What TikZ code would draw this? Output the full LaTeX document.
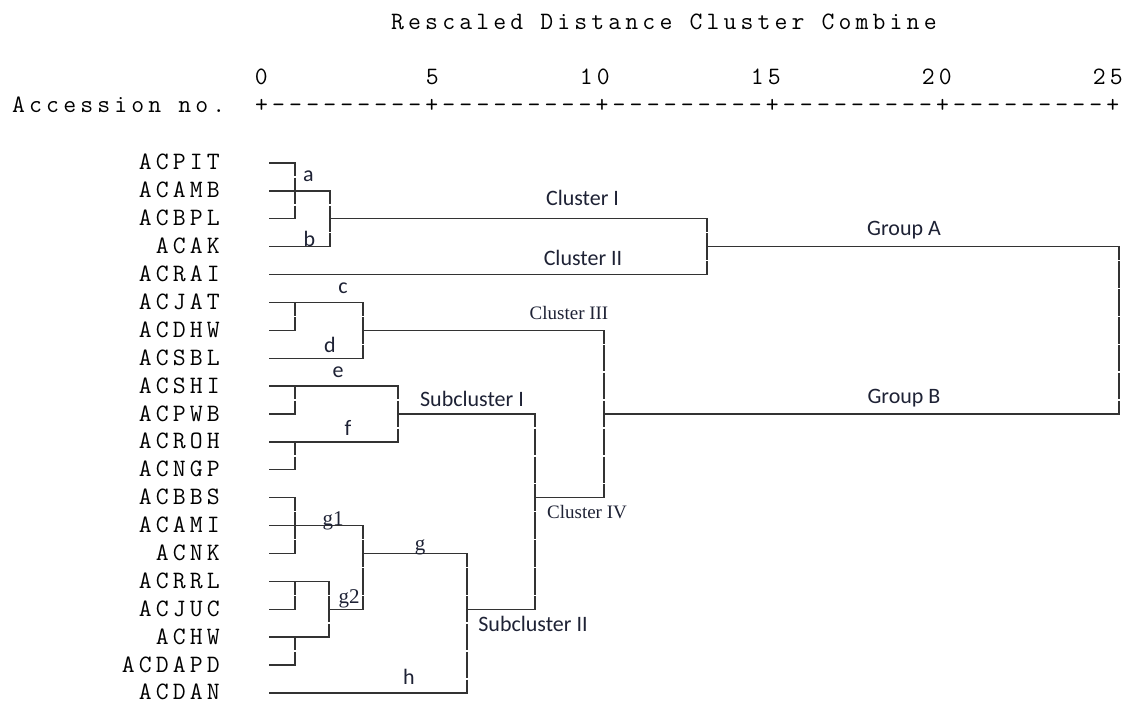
\documentclass[tikz,border=0pt]{standalone}
\usepackage{fontspec}
\newfontfamily\califont{Carlito}
\newfontfamily\seriffont{Liberation Serif}
\newfontfamily\spssfont{Latin Modern Mono}[LetterSpace=16.6]
\definecolor{linec}{HTML}{333333}
\definecolor{labc}{HTML}{1E2235}
\newcommand\msp{\hspace*{17.1pt}}
\tikzset{
  den/.style={draw=linec, line width=1.3pt, line cap=rect},
  vden/.style={draw=linec, line width=1.3pt, dash pattern=on 26.39pt off 1.5pt, dash phase=13.2pt},
  mono/.style={font=\spssfont\fontsize{25}{25}\selectfont, inner sep=0pt, text=black},
  leaf/.style={mono, anchor=base east},
  lab/.style={font=\califont\fontsize{22}{22}\selectfont, inner sep=0pt, text=labc, anchor=base},
  slab/.style={font=\seriffont\fontsize{19}{19}\selectfont, inner sep=0pt, text=labc, anchor=base},
  glab/.style={font=\seriffont\fontsize{21}{21}\selectfont, inner sep=0pt, text=labc, anchor=base},
}
\newcommand\dhor[3]{\draw[den] (#2,#1) -- (#3,#1);}
\newcommand\dvert[3]{\draw[vden] (#1,#2) -- (#1,#3);}
\begin{document}
\begin{tikzpicture}[x=1pt, y=-27.89pt]
\useasboundingbox[fill=white] (0,-5.844) rectangle (1125,19.326);
% header
\node[mono, anchor=base west] (title) at (391,-4.769) {Rescaled\msp Distance\msp Cluster\msp Combine};
\node[mono, anchor=base east] (n0) at (268,-2.797) {0};
\node[mono, anchor=base east] (n5) at (439,-2.797) {5};
\node[mono, anchor=base east] (n10) at (610,-2.797) {10};
\node[mono, anchor=base east] (n15) at (781,-2.797) {15};
\node[mono, anchor=base east] (n20) at (952,-2.797) {20};
\node[mono, anchor=base east] (n25) at (1123,-2.797) {25};
\node[mono, anchor=base west] (acc) at (12,-1.793) {Accession\msp no.};
\node[mono, anchor=base west] (axis) at (255,-1.793) {+---------+---------+---------+---------+---------+};
% leaves
\foreach \nm [count=\i from 0] in {ACPIT,ACAMB,ACBPL,ACAK,ACRAI,ACJAT,ACDHW,ACSBL,ACSHI,ACPWB,ACROH,ACNGP,ACBBS,ACAMI,ACNK,ACRRL,ACJUC,ACHW,ACDAPD,ACDAN}
  \node[leaf] (leaf\i) at (220,\i+0.251) {\nm};
% cluster I / II
\dhor{0}{270}{295}
\dhor{1}{270}{330}
\dhor{2}{270}{295}
\dhor{3}{270}{330}
\dvert{295}{0}{2}
\dvert{330}{1}{3}
\dhor{2}{330}{707}
\dhor{4}{270}{707}
\dvert{707}{2}{4}
\dhor{3}{707}{1119}
\dvert{1119}{3}{9}
% cluster III
\dhor{5}{270}{363}
\dhor{6}{270}{295}
\dvert{295}{5}{6}
\dhor{7}{270}{363}
\dvert{363}{5}{7}
\dhor{6}{363}{604}
\dvert{604}{6}{12}
\dhor{9}{604}{1119}
% subcluster I
\dhor{8}{270}{398}
\dhor{9}{270}{295}
\dvert{295}{8}{9}
\dhor{10}{270}{398}
\dhor{11}{270}{295}
\dvert{295}{10}{11}
\dvert{398}{8}{10}
\dhor{9}{398}{535}
\dvert{535}{9}{16}
\dhor{12}{535}{604}
% subcluster II
\dhor{12}{270}{295}
\dhor{13}{270}{363}
\dhor{14}{270}{295}
\dvert{295}{12}{14}
\dhor{15}{270}{329}
\dhor{16}{270}{295}
\dvert{295}{15}{16}
\dhor{17}{270}{329}
\dhor{18}{270}{295}
\dvert{295}{17}{18}
\dvert{329}{15}{17}
\dhor{16}{329}{363}
\dvert{363}{13}{16}
\dhor{14}{363}{467}
\dhor{19}{270}{467}
\dvert{467}{14}{19}
\dhor{16}{467}{535}
% labels
\node[lab] (la) at (308.5,0.681) {a};
\node[lab] (lb) at (309.5,3.012) {b};
\node[lab] (lc) at (343,4.697) {c};
\node[lab] (ld) at (330,6.812) {d};
\node[lab] (le) at (338,7.709) {e};
\node[lab] (lf) at (348,9.753) {f};
\node[glab] (lg1) at (333,13.015) {g1};
\node[glab] (lg) at (420,13.912) {g};
\node[glab] (lg2) at (349,15.812) {g2};
\node[lab] (lh) at (409,18.716) {h};
\node[lab] (c1) at (582.5,1.542) {Cluster I};
\node[lab] (c2) at (583,3.693) {Cluster II};
\node[slab] (c3) at (569,5.629) {Cluster III};
\node[lab] (s1) at (472,8.738) {Subcluster I};
\node[slab] (c4) at (587,12.729) {Cluster IV};
\node[lab] (s2) at (533,16.816) {Subcluster II};
\node[lab] (ga) at (904,2.617) {Group A};
\node[lab] (gb) at (904,8.641) {Group B};
\end{tikzpicture}
\end{document}
